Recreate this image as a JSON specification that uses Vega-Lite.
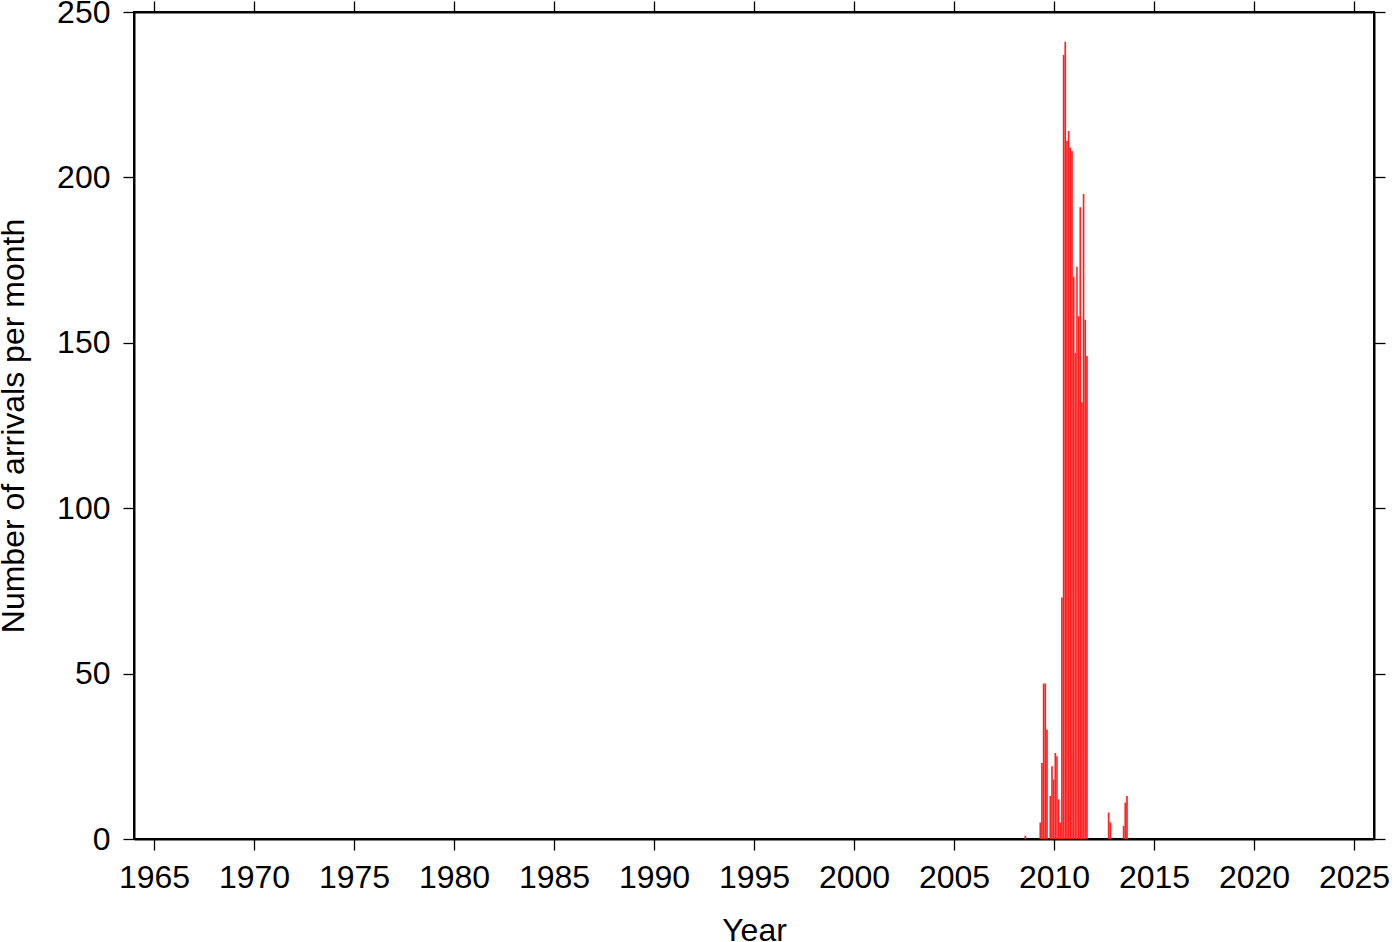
{
  "$schema": "https://vega.github.io/schema/vega-lite/v6.json",
  "width": 1240,
  "height": 827,
  "autosize": {"type": "none"},
  "padding": {"left": 134, "top": 12, "right": 26, "bottom": 103},
  "background": "white",
  "config": {
    "view": {"stroke": "black", "strokeWidth": 2},
    "axis": {
      "labelFont": "Liberation Sans",
      "titleFont": "Liberation Sans",
      "labelFontSize": 32,
      "titleFontSize": 32,
      "titleFontWeight": "normal",
      "labelColor": "black",
      "titleColor": "black",
      "domainColor": "black",
      "tickColor": "black",
      "domainWidth": 2,
      "tickWidth": 1.3,
      "tickSize": 11,
      "grid": false,
      "labelFlush": false,
      "labelOverlap": false
    }
  },
  "data": {
    "values": [
      {"month": "2008-07-01", "arrivals": 1},
      {"month": "2009-04-01", "arrivals": 5},
      {"month": "2009-05-01", "arrivals": 23},
      {"month": "2009-06-01", "arrivals": 47},
      {"month": "2009-07-01", "arrivals": 47},
      {"month": "2009-08-01", "arrivals": 33},
      {"month": "2009-10-01", "arrivals": 13},
      {"month": "2009-11-01", "arrivals": 22},
      {"month": "2009-12-01", "arrivals": 18},
      {"month": "2010-01-01", "arrivals": 26},
      {"month": "2010-02-01", "arrivals": 25},
      {"month": "2010-03-01", "arrivals": 12},
      {"month": "2010-04-01", "arrivals": 5},
      {"month": "2010-05-01", "arrivals": 73},
      {"month": "2010-06-01", "arrivals": 237},
      {"month": "2010-07-01", "arrivals": 241},
      {"month": "2010-08-01", "arrivals": 211},
      {"month": "2010-09-01", "arrivals": 214},
      {"month": "2010-10-01", "arrivals": 209},
      {"month": "2010-11-01", "arrivals": 208},
      {"month": "2010-12-01", "arrivals": 170},
      {"month": "2011-01-01", "arrivals": 147},
      {"month": "2011-02-01", "arrivals": 173},
      {"month": "2011-03-01", "arrivals": 158},
      {"month": "2011-04-01", "arrivals": 191},
      {"month": "2011-05-01", "arrivals": 132},
      {"month": "2011-06-01", "arrivals": 195},
      {"month": "2011-07-01", "arrivals": 157},
      {"month": "2011-08-01", "arrivals": 146},
      {"month": "2012-09-01", "arrivals": 8},
      {"month": "2012-10-01", "arrivals": 5},
      {"month": "2013-06-01", "arrivals": 4},
      {"month": "2013-07-01", "arrivals": 11},
      {"month": "2013-08-01", "arrivals": 13}
    ]
  },
  "layer": [
    {
      "mark": {"type": "bar", "color": "#ff2020", "binSpacing": 0},
      "encoding": {
        "x": {
          "field": "month",
          "type": "temporal",
          "timeUnit": "utcyearmonth",
          "scale": {
            "domain": [
              {"year": 1964, "month": 1, "date": 1, "utc": true},
              {"year": 2026, "month": 1, "date": 1, "utc": true}
            ],
            "nice": false
          },
          "axis": {
            "orient": "bottom",
            "title": "Year",
            "format": "%Y",
            "tickCount": {"interval": "year", "step": 5},
            "labelPadding": 12,
            "titlePadding": 22
          }
        },
        "y": {
          "field": "arrivals",
          "type": "quantitative",
          "scale": {"domain": [0, 250], "nice": false},
          "axis": {
            "orient": "left",
            "title": "Number of arrivals per month",
            "values": [0, 50, 100, 150, 200, 250],
            "labelPadding": 13,
            "titlePadding": 26
          }
        }
      }
    },
    {
      "mark": {"type": "bar", "opacity": 0, "binSpacing": 0},
      "encoding": {
        "x": {
          "field": "month",
          "type": "temporal",
          "timeUnit": "utcyearmonth",
          "axis": {
            "orient": "top",
            "title": null,
            "labels": false,
            "tickCount": {"interval": "year", "step": 5}
          }
        },
        "y": {
          "field": "arrivals",
          "type": "quantitative",
          "axis": {
            "orient": "right",
            "title": null,
            "labels": false,
            "values": [0, 50, 100, 150, 200, 250]
          }
        }
      }
    }
  ],
  "resolve": {"axis": {"x": "independent", "y": "independent"}}
}
